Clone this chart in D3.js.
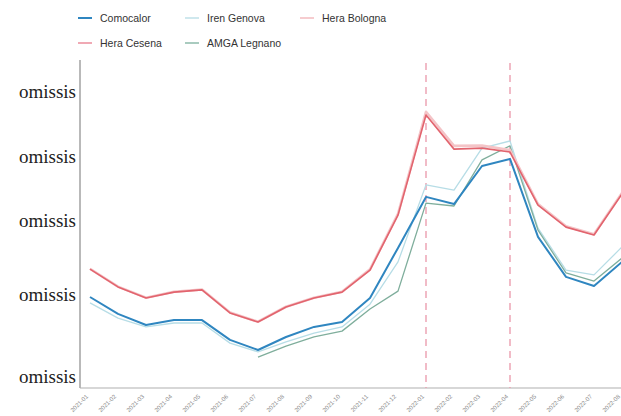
<!DOCTYPE html>
<html>
<head>
<meta charset="utf-8">
<script src="https://cdn.jsdelivr.net/npm/d3@7"></script>
<style>
  html, body { margin: 0; padding: 0; background: #fff; }
  svg { display: block; }
</style>
</head>
<body>
<svg id="chart" width="621" height="416"></svg>
<script>
// Periods on the x axis
const periods = ["2021-01","2021-02","2021-03","2021-04","2021-05","2021-06","2021-07","2021-08",
                 "2021-09","2021-10","2021-11","2021-12","2022-01","2022-02","2022-03","2022-04",
                 "2022-05","2022-06","2022-07","2022-08"];

// Price index per operator (null = not available)
const comocalor   = [28.0,22.8,19.4,20.9,20.9,14.8,11.7,15.7,18.8,20.3,27.7,43.1,58.8,56.6,68.3,70.5,46.5,34.2,31.4,38.8];
const irenGenova  = [26.2,21.5,18.8,20.0,20.0,13.8,11.1,14.2,16.9,18.8,25.8,38.8,62.5,60.9,73.8,76.0,49.2,36.3,34.8,43.4];
const heraBologna = [36.7,31.2,27.8,29.6,30.3,23.2,20.4,25.0,27.8,29.6,36.5,53.6,85.0,74.5,74.6,73.2,56.6,49.8,47.3,60.0];
const heraCesena  = [36.6,31.1,27.7,29.5,30.2,23.1,20.3,24.9,27.7,29.5,36.3,53.2,84.0,73.5,73.8,72.6,56.3,49.5,47.1,59.7];
const amgaLegnano = [null,null,null,null,null,null,9.5,12.9,15.7,17.5,24.3,29.8,56.9,56.0,70.2,74.5,48.6,35.4,32.9,40.0];

// Y tick positions (labels withheld in the source)
const yTicks = [3.4, 28.6, 51.4, 71.1, 91.1];
const yTickLabel = "omissis";

// Periods marked with a dashed reference line
const markedPeriods = ["2022-01", "2022-04"];

const series = [
  { name: "Iren Genova",  values: irenGenova,  color: "#b7dde6", width: 1.3 },
  { name: "AMGA Legnano", values: amgaLegnano, color: "#7fae9c", width: 1.3 },
  { name: "Hera Bologna", values: heraBologna, color: "#f4c4c7", width: 2.6 },
  { name: "Hera Cesena",  values: heraCesena,  color: "#e2646e", width: 1.6 },
  { name: "Comocalor",    values: comocalor,   color: "#2f86c0", width: 2.0 }
];

const legendItems = [
  { name: "Comocalor",    color: "#2f86c0" },
  { name: "Iren Genova",  color: "#cfe8ee" },
  { name: "Hera Bologna", color: "#f6cccf" },
  { name: "Hera Cesena",  color: "#f0a9b4" },
  { name: "AMGA Legnano", color: "#a9cbbf" }
];

const svg = d3.select("#chart");
const W = 621, H = 416;
const plot = { left: 80, top: 60, bottom: 388 };

const x = d3.scalePoint().domain(periods).range([90, 622]);
const y = d3.scaleLinear().domain([0, 100]).range([388, 63]);

// Axes lines
svg.append("line").attr("x1", plot.left).attr("x2", plot.left)
  .attr("y1", plot.top).attr("y2", plot.bottom)
  .attr("stroke", "#8a8a8a").attr("stroke-width", 1.2);
svg.append("line").attr("x1", plot.left).attr("x2", W)
  .attr("y1", plot.bottom).attr("y2", plot.bottom)
  .attr("stroke", "#b0b0b0").attr("stroke-width", 1.2);

// Y axis labels
const yAxis = d3.axisLeft(y).tickValues(yTicks).tickFormat(() => yTickLabel).tickSize(0).tickPadding(4);
const gy = svg.append("g").attr("transform", `translate(${plot.left},0)`).call(yAxis);
gy.select(".domain").remove();
gy.selectAll("text")
  .attr("font-family", "'Liberation Serif', 'DejaVu Serif', serif")
  .attr("font-size", 19).attr("fill", "#222")
  .attr("dy", "0.28em");

// X axis labels, rotated
const xAxis = d3.axisBottom(x).tickSize(0).tickPadding(0);
const gx = svg.append("g").attr("transform", `translate(0,${plot.bottom})`).call(xAxis);
gx.select(".domain").remove();
gx.selectAll("text")
  .attr("font-family", "'Liberation Sans', Arial, sans-serif")
  .attr("font-size", 6).attr("fill", "#888")
  .attr("text-anchor", "end")
  .attr("dy", 0)
  .attr("transform", "translate(-2,9) rotate(-45)");

// Dashed reference lines
svg.append("g").selectAll("line").data(markedPeriods).join("line")
  .attr("x1", d => x(d)).attr("x2", d => x(d))
  .attr("y1", y(100)).attr("y2", plot.bottom)
  .attr("stroke", "#ec9fb0").attr("stroke-width", 1.4)
  .attr("stroke-dasharray", "7,5");

// Series lines
const line = d3.line()
  .defined(d => d != null)
  .x((d, i) => x(periods[i]))
  .y(d => y(d));

svg.append("g").selectAll("path").data(series).join("path")
  .attr("fill", "none")
  .attr("stroke", d => d.color)
  .attr("stroke-width", d => d.width)
  .attr("stroke-linejoin", "round")
  .attr("d", d => line(d.values));

// Legend
const legendPos = [[78, 18], [185, 18], [300, 18], [78, 43], [185, 43]];
const lg = svg.append("g").selectAll("g").data(legendItems).join("g")
  .attr("transform", (d, i) => `translate(${legendPos[i][0]},${legendPos[i][1]})`);
lg.append("line").attr("x1", 0).attr("x2", 14).attr("y1", 0).attr("y2", 0)
  .attr("stroke", d => d.color).attr("stroke-width", 2);
lg.append("text").attr("x", 22).attr("y", 4)
  .attr("font-family", "'Liberation Sans', Arial, sans-serif")
  .attr("font-size", 10.5).attr("fill", "#333")
  .text(d => d.name);
</script>
</body>
</html>
